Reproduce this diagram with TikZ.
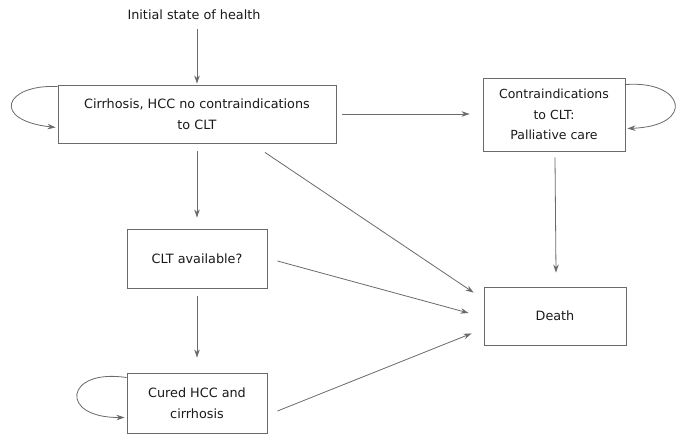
\documentclass[tikz,border=0pt]{standalone}
\usepackage{fontspec}
\setmainfont{DejaVu Sans}
\usetikzlibrary{arrows.meta,calc}
\definecolor{linegray}{HTML}{6A6A6A}
\definecolor{txt}{HTML}{1A1A1A}
\tikzset{
  box/.style={draw=linegray, line width=0.9pt, text=txt, align=center, inner sep=0pt,
     font=\fontsize{12.8}{21}\selectfont},
  conn/.style={draw=linegray, line width=0.8pt, -{Stealth[length=8pt,width=5.5pt]}},
}
\begin{document}
\begin{tikzpicture}[x=1pt,y=-1pt]
\useasboundingbox[fill=white] (0,0) rectangle (690,447);
\node[text=txt, font=\fontsize{12.8}{21}\selectfont] (init) at (194,15) {Initial state of health};
\node[box, minimum width=278pt, minimum height=58pt] (A) at (197,114) {Cirrhosis, HCC no contraindications\\to CLT};
\node[box, minimum width=142pt, minimum height=73pt, font=\fontsize{12.5}{20.5}\selectfont] (C) at (554,114.5) {Contraindications\\to CLT:\\Palliative care};
\node[box, minimum width=140pt, minimum height=59pt] (B) at (197,258.5) {CLT available?};
\node[box, minimum width=142pt, minimum height=58pt] (Dth) at (555,316) {Death};
\node[box, minimum width=140pt, minimum height=60pt] (D) at (197,403) {Cured HCC and\\cirrhosis};

% vertical arrows
\draw[conn] ([xshift=3pt,yshift=-6pt]init.south) -- ([yshift=1pt]A.north);
\draw[conn] ([yshift=-8pt]A.south) -- ([yshift=11pt]B.north);
\draw[conn] ([yshift=-8pt]B.south) -- ([yshift=15pt]D.north);
\draw[conn] ([xshift=1pt,yshift=-6pt]C.south) -- ([xshift=1pt,yshift=14pt]Dth.north);
% horizontal
\draw[conn] ([xshift=6pt]A.east) -- ([xshift=-13pt]A.east -| C.west);
% diagonals
\draw[conn] ([xshift=68pt,yshift=-9pt]A.south) -- ([xshift=-10pt,yshift=-6pt]Dth.north west);
\draw[conn] ([xshift=10pt,yshift=-2.5pt]B.east) -- ([xshift=-15pt,yshift=3pt]Dth.west);
\draw[conn] ([xshift=10pt,yshift=-8pt]D.east) -- ([xshift=-12pt,yshift=12pt]Dth.south west);
% self loops
\draw[conn] ([yshift=-2pt]A.north west) .. controls (5,84) and (-10,120) .. ([xshift=-2pt,yshift=16pt]A.south west);
\draw[conn] ([yshift=-7pt]C.north east) .. controls (685,80) and (696,126) .. ([xshift=2pt,yshift=23pt]C.south east);
\draw[conn] ([yshift=-5pt]D.north west) .. controls (65,368) and (58,418) .. ([xshift=-2pt,yshift=16pt]D.south west);
\end{tikzpicture}
\end{document}
